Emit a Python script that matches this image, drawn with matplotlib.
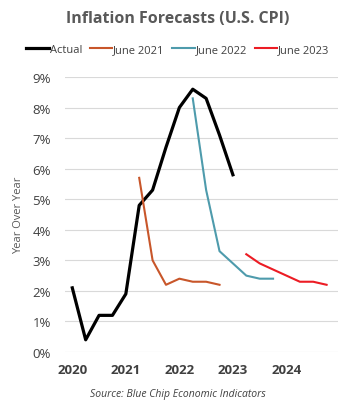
import numpy as np
import matplotlib.pyplot as plt
from matplotlib.ticker import FuncFormatter

plt.rcParams['font.family'] = ['Open Sans', 'DejaVu Sans']

# quarterly data, x = year + quarter offset
actual_x = [2020 + i * 0.25 for i in range(13)]
actual = [2.1, 0.4, 1.2, 1.2, 1.9, 4.8, 5.3, 6.7, 8.0, 8.6, 8.3, 7.1, 5.8]

jun21_x = [2021.25 + i * 0.25 for i in range(7)]
jun21 = [5.7, 3.0, 2.2, 2.4, 2.3, 2.3, 2.2]

jun22_x = [2022.25 + i * 0.25 for i in range(7)]
jun22 = [8.3, 5.3, 3.3, 2.9, 2.5, 2.4, 2.4]

jun23_x = [2023.25 + i * 0.25 for i in range(7)]
jun23 = [3.2, 2.9, 2.7, 2.5, 2.3, 2.3, 2.2]

years = [2020, 2021, 2022, 2023, 2024]

fig = plt.figure(figsize=(3.56, 4.14), dpi=100)
ax = fig.add_axes([0.1826, 0.1473, 0.7664, 0.6643])

ax.plot(actual_x, actual, color='black', lw=2.3, label='Actual')
ax.plot(jun21_x, jun21, color='#C8562A', lw=1.5, label='June 2021')
ax.plot(jun22_x, jun22, color='#4E9BAC', lw=1.5, label='June 2022')
ax.plot(jun23_x, jun23, color='#EC1C24', lw=1.5, label='June 2023')

ax.set_xlim(2019.864, 2024.96)
ax.set_ylim(0, 9)
ax.set_yticks(range(0, 10))
ax.yaxis.set_major_formatter(FuncFormatter(lambda v, p: f'{int(v)}%'))
ax.set_xticks(years)
ax.set_xticklabels([str(y) for y in years], fontweight='bold')
ax.grid(axis='y', color='#D9D9D9', lw=0.8)
ax.set_axisbelow(True)
for s in ax.spines.values():
    s.set_visible(False)
ax.tick_params(length=0, colors='#404040', labelsize=9.5)
ax.tick_params(axis='y', pad=10)
ax.tick_params(axis='x', pad=8)
ax.set_ylabel('Year Over Year', color='#595959', fontsize=8, labelpad=6)

fig.text(0.5, 0.955, 'Inflation Forecasts (U.S. CPI)', ha='center', va='center',
         fontsize=11.5, fontweight='bold', color='#595959')
fig.legend(loc='center', bbox_to_anchor=(0.5, 0.878), ncol=4, frameon=False,
           fontsize=8, handlelength=2.0, handletextpad=0.1, columnspacing=0.7,
           labelcolor='#404040')
fig.text(0.5, 0.048, 'Source: Blue Chip Economic Indicators', ha='center', va='center',
         fontsize=7.5, style='italic', color='#404040')

fig.savefig('out.png', dpi=100)
